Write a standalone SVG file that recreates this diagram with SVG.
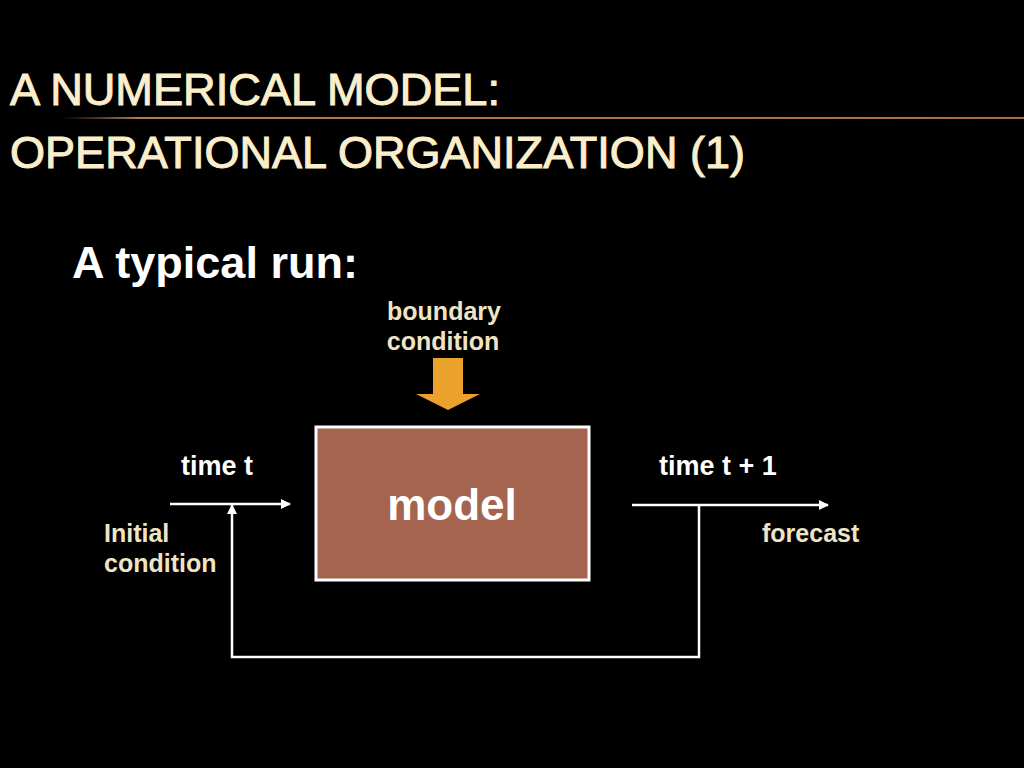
<svg xmlns="http://www.w3.org/2000/svg" width="1024" height="768" viewBox="0 0 1024 768">
  <defs>
    <linearGradient id="rule" gradientUnits="userSpaceOnUse" x1="60" y1="0" x2="1024" y2="0">
      <stop offset="0" stop-color="#a86e45" stop-opacity="0"/>
      <stop offset="0.08" stop-color="#c08a5a" stop-opacity="0.9"/>
      <stop offset="0.4" stop-color="#b07548"/>
      <stop offset="1" stop-color="#a86e45"/>
    </linearGradient>
    <marker id="ah" viewBox="0 0 10 10" refX="9" refY="5" markerWidth="10" markerHeight="10" markerUnits="userSpaceOnUse" orient="auto">
      <path d="M0,0 L10,5 L0,10 Z" fill="#ffffff"/>
    </marker>
  </defs>
  <style>
    .title { font-family: "Liberation Sans", Arial, sans-serif; font-size: 44px; fill: #fbeecb; stroke: #fbeecb; stroke-width: 1; }
    .sub { font-family: "Liberation Sans", Arial, sans-serif; font-weight: bold; font-size: 45px; fill: #ffffff; }
    .lbl { font-family: "Liberation Sans", Arial, sans-serif; font-weight: bold; font-size: 25px; fill: #efe4c4; }
    .time { font-family: "Liberation Sans", Arial, sans-serif; font-weight: bold; font-size: 27px; fill: #ffffff; }
    .conn { fill: none; stroke: #ffffff; stroke-width: 2.5; }
  </style>
  <rect x="0" y="0" width="1024" height="768" fill="#000000"/>

  <g id="title">
    <text class="title" x="10" y="105" textLength="490" lengthAdjust="spacingAndGlyphs">A NUMERICAL MODEL:</text>
    <rect x="60" y="117" width="964" height="2" fill="url(#rule)"/>
    <text class="title" x="10" y="168" textLength="735" lengthAdjust="spacingAndGlyphs">OPERATIONAL ORGANIZATION (1)</text>
  </g>

  <g id="subtitle">
    <text class="sub" x="72" y="278">A typical run:</text>
  </g>

  <g id="boundary">
    <text class="lbl" x="444" y="320" text-anchor="middle">boundary</text>
    <text class="lbl" x="443" y="350" text-anchor="middle">condition</text>
    <path d="M433,358 L463,358 L463,394 L480,394 L448,410 L416,394 L433,394 Z" fill="#eba22d"/>
  </g>

  <g id="model">
    <rect x="316" y="427" width="273" height="153" fill="#a4644f" stroke="#ffffff" stroke-width="3"/>
    <text x="452" y="520" text-anchor="middle" font-family="Liberation Sans, Arial, sans-serif" font-weight="bold" font-size="44" fill="#ffffff">model</text>
  </g>

  <g id="labels">
    <text class="time" x="181" y="475">time t</text>
    <text class="time" x="659" y="475">time t + 1</text>
    <text class="lbl" x="104" y="542">Initial</text>
    <text class="lbl" x="104" y="572">condition</text>
    <text class="lbl" x="762" y="542">forecast</text>
  </g>

  <g id="connectors">
    <line class="conn" x1="170" y1="504" x2="290" y2="504" marker-end="url(#ah)"/>
    <line class="conn" x1="632" y1="505" x2="828" y2="505" marker-end="url(#ah)"/>
    <path class="conn" d="M699,505 L699,657 L232,657 L232,505" marker-end="url(#ah)"/>
  </g>
</svg>
